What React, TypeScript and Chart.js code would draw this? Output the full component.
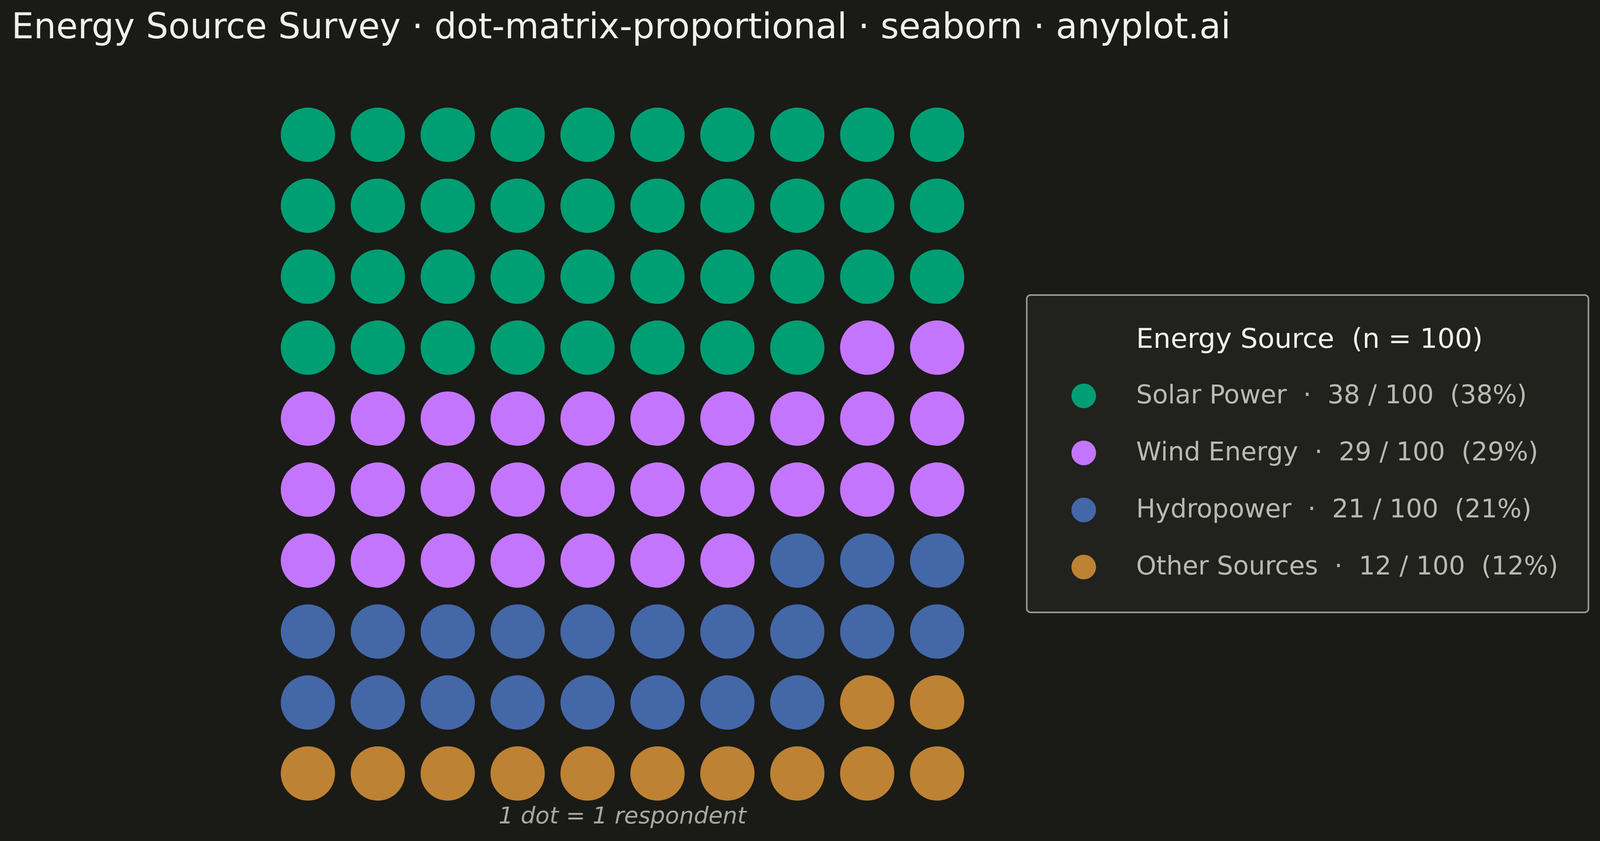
import { useEffect, useRef } from "react";
import { Chart, registerables } from "chart.js";

Chart.register(...registerables);

const categories = ["Solar Power", "Wind Energy", "Hydropower", "Other Sources"];
const counts = [38, 29, 21, 12];
const colors = ["#009E73", "#C475FD", "#4467A7", "#BD8233"];
const columns = 10;
const rows = 10;

const title = "Energy Source Survey · dot-matrix-proportional · seaborn · anyplot.ai";
const legendTitle = "Energy Source  (n = 100)";
const caption = "1 dot = 1 respondent";

// layout is designed for 4156x2152 and scaled to the real viewport
const W = 4156;
const H = 2152;
const BG = "#1A1A17";
const FONT = "'DejaVu Sans', sans-serif";

// fill the grid row by row, top-left first
const buildDatasets = (r: number) => {
  let cell = 0;
  return categories.map((name, i) => {
    const pts = [];
    for (let k = 0; k < counts[i]; k++) {
      pts.push({ x: cell % columns, y: Math.floor(cell / columns) });
      cell++;
    }
    return {
      label: name,
      data: pts,
      backgroundColor: colors[i],
      borderWidth: 0,
      pointRadius: r,
      pointHoverRadius: r,
    };
  });
};

const makeTextPlugin = (sx: number, sy: number) => {
  const f = Math.min(sx, sy);
  const X = (v: number) => v * sx;
  const Y = (v: number) => v * sy;
  return {
    id: "texts",
    beforeDraw(chart: any) {
      const ctx = chart.ctx;
      ctx.save();
      ctx.fillStyle = BG;
      ctx.fillRect(0, 0, chart.width, chart.height);
      ctx.restore();
    },
    afterDraw(chart: any) {
      const ctx = chart.ctx;
      const total = counts.reduce((a, b) => a + b, 0);
      ctx.save();

      // title
      ctx.fillStyle = "#F0F0EA";
      ctx.font = `${91.5 * sx}px ${FONT}`;
      ctx.textAlign = "left";
      ctx.textBaseline = "alphabetic";
      ctx.fillText(title, X(30), Y(98));

      // caption under the grid
      const xs = chart.scales.x;
      const cx = (xs.getPixelForValue(0) + xs.getPixelForValue(columns - 1)) / 2;
      ctx.fillStyle = "#A8A8A0";
      ctx.font = `italic ${60 * f}px ${FONT}`;
      ctx.textAlign = "center";
      ctx.fillText(caption, cx, Y(2107));

      // legend box
      ctx.beginPath();
      ctx.roundRect(X(2667), Y(755), X(1459), Y(812), 10 * f);
      ctx.fillStyle = "#21211E";
      ctx.fill();
      ctx.lineWidth = 4;
      ctx.strokeStyle = "#9B9B95";
      ctx.stroke();

      ctx.textAlign = "left";
      ctx.fillStyle = "#F0F0EA";
      ctx.font = `${71 * sx}px ${FONT}`;
      ctx.fillText(legendTitle, X(2951), Y(890));

      ctx.font = `${66.5 * sx}px ${FONT}`;
      ctx.textBaseline = "middle";
      categories.forEach((name, i) => {
        const y = Y(1013 + i * 146);
        ctx.beginPath();
        ctx.arc(X(2815), y, 32 * f, 0, Math.PI * 2);
        ctx.fillStyle = colors[i];
        ctx.fill();
        ctx.fillStyle = "#B9B9B1";
        const pct = Math.round((counts[i] / total) * 100);
        ctx.fillText(`${name}  ·  ${counts[i]} / ${total}  (${pct}%)`, X(2951), y + 2);
      });

      ctx.restore();
    },
  };
};

const DotMatrix = () => {
  const chartRef = useRef<HTMLCanvasElement>(null);

  useEffect(() => {
    document.body.style.margin = "0";
    document.body.style.background = BG;
    document.body.style.overflow = "hidden";
    const vw = window.innerWidth || W;
    const vh = window.innerHeight || H;
    const sx = vw / W;
    const sy = vh / H;
    const canvas = chartRef.current!;
    canvas.width = vw;
    canvas.height = vh;
    canvas.style.width = `${vw}px`;
    canvas.style.height = `${vh}px`;

    const ctx = canvas.getContext("2d")!;
    const myChart = new Chart(ctx, {
      type: "scatter",
      data: { datasets: buildDatasets(70.5 * Math.min(sx, sy)) as any },
      options: {
        responsive: false,
        animation: false,
        devicePixelRatio: 1,
        events: [],
        layout: {
          padding: {
            left: 709 * sx,
            right: vw - 2525 * sx,
            top: 254 * sy,
            bottom: vh - 2070 * sy,
          },
        },
        scales: {
          x: { type: "linear", min: -0.5, max: columns - 0.5, display: false },
          y: { type: "linear", min: -0.5, max: rows - 0.5, reverse: true, display: false },
        },
        plugins: {
          legend: { display: false },
          tooltip: { enabled: false },
          title: { display: false },
        },
      },
      plugins: [makeTextPlugin(sx, sy)],
    });

    return () => {
      myChart.destroy();
    };
  }, []);

  return <canvas ref={chartRef} style={{ display: "block" }} />;
};

export default function App() {
  return <DotMatrix />;
}
